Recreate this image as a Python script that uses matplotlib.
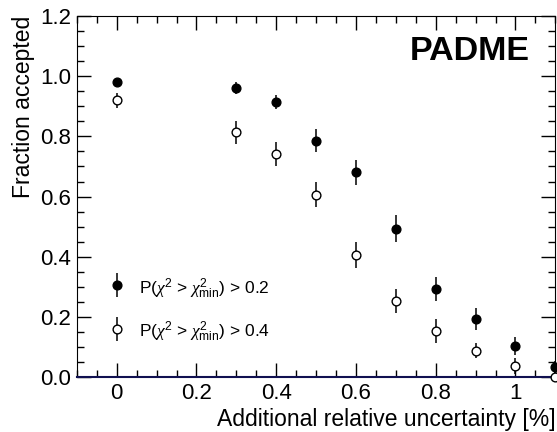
import numpy as np
import matplotlib
matplotlib.use("Agg")
import matplotlib.pyplot as plt
from matplotlib.ticker import MultipleLocator
from matplotlib.legend_handler import HandlerErrorbar

plt.rcParams['font.family'] = ['Liberation Sans', 'DejaVu Sans']
plt.rcParams['mathtext.fontset'] = 'custom'
plt.rcParams['mathtext.rm'] = 'Liberation Sans'
plt.rcParams['mathtext.it'] = 'Liberation Serif:italic'
plt.rcParams['mathtext.bf'] = 'Liberation Sans:bold'

# added relative uncertainty [%]
unc = [0.0, 0.3, 0.4, 0.5, 0.6, 0.7, 0.8, 0.9, 1.0, 1.1]

# fraction of fits accepted, P(chi2 > chi2_min) > 0.2
frac_02 = [0.980, 0.960, 0.913, 0.786, 0.680, 0.493, 0.293, 0.193, 0.104, 0.033]
err_02 = [0.012, 0.020, 0.023, 0.037, 0.042, 0.045, 0.039, 0.038, 0.030, 0.020]

# fraction of fits accepted, P(chi2 > chi2_min) > 0.4
frac_04 = [0.920, 0.813, 0.740, 0.606, 0.406, 0.253, 0.153, 0.087, 0.037, 0.002]
err_04 = [0.025, 0.038, 0.040, 0.042, 0.043, 0.040, 0.039, 0.025, 0.025, 0.015]

fig = plt.figure(figsize=(5.57, 4.32), dpi=100)
ax = fig.add_axes([0.138, 0.127, 0.859, 0.836])

ax.errorbar(unc, frac_02, yerr=err_02, fmt='o', color='black', ms=6.3,
            elinewidth=1.1, capsize=0, clip_on=False, zorder=3,
            label=r'P($\chi^2\,>\,\chi^2_{\mathrm{min}}$) > 0.2')
ax.errorbar(unc, frac_04, yerr=err_04, fmt='o', color='black', mfc='white',
            mec='black', mew=1.0, ms=6.3, elinewidth=1.1, capsize=0,
            clip_on=False, zorder=3,
            label=r'P($\chi^2\,>\,\chi^2_{\mathrm{min}}$) > 0.4')

ax.set_xlim(-0.1, 1.1)
ax.set_ylim(0.0, 1.2)
ax.xaxis.set_major_locator(MultipleLocator(0.2))
ax.xaxis.set_minor_locator(MultipleLocator(0.05))
ax.yaxis.set_major_locator(MultipleLocator(0.2))
ax.yaxis.set_minor_locator(MultipleLocator(0.05))
ax.xaxis.set_major_formatter(plt.FuncFormatter(lambda v, p: '%g' % round(v, 2)))
ax.yaxis.set_major_formatter(plt.FuncFormatter(lambda v, p: '%.1f' % v))

ax.tick_params(which='both', direction='in', top=True, right=True,
               labelsize=16, pad=4)
ax.tick_params(which='major', length=10, width=1)
ax.tick_params(which='minor', length=5, width=1)
ax.spines['bottom'].set_color('#101050')
ax.spines['bottom'].set_linewidth(1.5)

ax.set_xlabel('Additional relative uncertainty [%]', fontsize=16.5, loc='right',
              labelpad=3)
ax.set_ylabel('Fraction accepted', fontsize=16.5, loc='top')

ax.text(0.947, 0.903, 'PADME', transform=ax.transAxes, ha='right', va='center',
        fontsize=24.5, fontweight='bold')

ax.legend(loc='lower left', bbox_to_anchor=(0.051, 0.071), frameon=False,
          fontsize=12.5, handlelength=1.0, handletextpad=0.75, labelspacing=1.1,
          borderaxespad=0, handleheight=1.8,
          handler_map={type(ax.containers[0]): HandlerErrorbar(xerr_size=0.7)})

fig.savefig('out.png', dpi=100)
